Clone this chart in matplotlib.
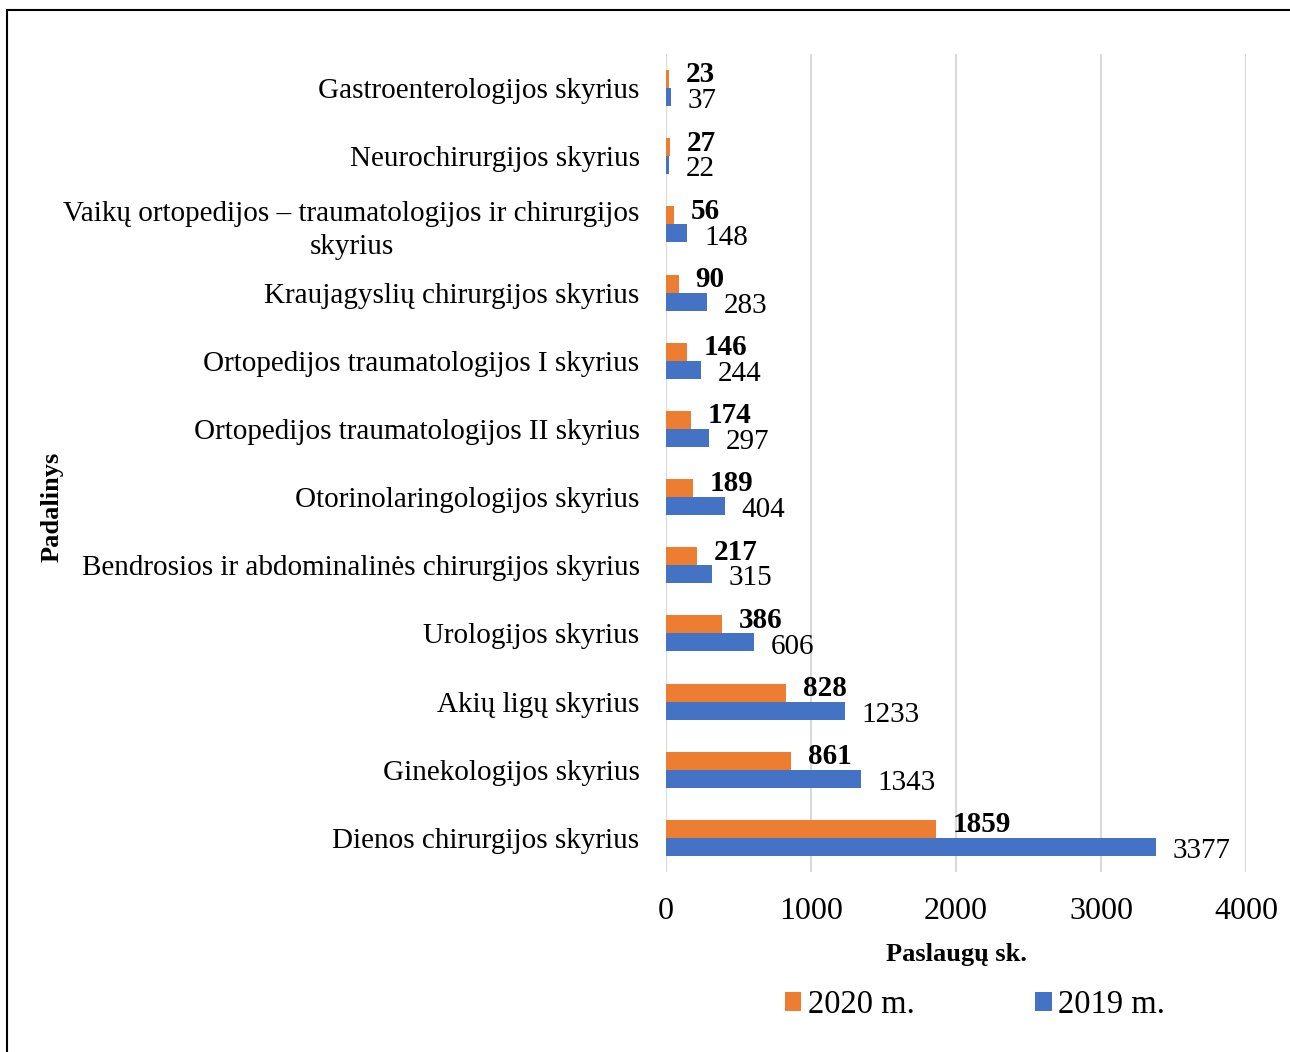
import matplotlib
matplotlib.use("Agg")
import matplotlib.pyplot as plt
from matplotlib.patches import Rectangle
import numpy as np

categories = [
    "Dienos chirurgijos skyrius",
    "Ginekologijos skyrius",
    "Akių ligų skyrius",
    "Urologijos skyrius",
    "Bendrosios ir abdominalinės chirurgijos skyrius",
    "Otorinolaringologijos skyrius",
    "Ortopedijos traumatologijos II skyrius",
    "Ortopedijos traumatologijos I skyrius",
    "Kraujagyslių chirurgijos skyrius",
    "Vaikų ortopedijos – traumatologijos ir chirurgijos\nskyrius",
    "Neurochirurgijos skyrius",
    "Gastroenterologijos skyrius",
]
values_2020 = [1859, 861, 828, 386, 217, 189, 174, 146, 90, 56, 27, 23]
values_2019 = [3377, 1343, 1233, 606, 315, 404, 297, 244, 283, 148, 22, 37]
series_labels = ["2020 m.", "2019 m."]
xticks = [0, 1000, 2000, 3000, 4000]

plt.rcParams['font.family'] = ['Liberation Serif', 'DejaVu Serif']

fig = plt.figure(figsize=(12.9, 10.52), dpi=100)
ax = fig.add_axes([666/1290, 1-872/1052, 580/1290, 818/1052])

y = np.arange(len(categories))
h = 0.265
c20 = "#ED7D31"
c19 = "#4472C4"
b20 = ax.barh(y + h/2, values_2020, height=h, color=c20, label=series_labels[0], zorder=3)
b19 = ax.barh(y - h/2, values_2019, height=h, color=c19, label=series_labels[1], zorder=3)

for yi, v in zip(y, values_2020):
    ax.annotate(str(v), (v, yi + h/2), xytext=(12, 3), textcoords="offset points",
                ha="left", va="center", fontsize=21, fontweight="bold")
for yi, v in zip(y, values_2019):
    ax.annotate(str(v), (v, yi - h/2), xytext=(12, -3), textcoords="offset points",
                ha="left", va="center", fontsize=21)

ax.set_xlim(0, 4000)
ax.set_ylim(-0.5, len(categories) - 0.5)
ax.set_xticks(xticks)
ax.set_xticklabels([str(t) for t in xticks], fontsize=23)
ax.set_yticks(y)
ax.set_yticklabels(categories, fontsize=21, multialignment="center", linespacing=1.34)
ax.tick_params(axis="both", length=0)
ax.tick_params(axis="x", pad=18)
ax.tick_params(axis="y", pad=19)
for s in ax.spines.values():
    s.set_visible(False)
ax.grid(axis="x", color="#d9d9d9", linewidth=1.5, zorder=0)
ax.set_axisbelow(True)

ax.set_xlabel("Paslaugų sk.", fontsize=19, fontweight="bold", labelpad=12)
fig.text(52/1290, 1-507/1052, "Padalinys", rotation=90, fontsize=19, fontweight="bold",
         ha="center", va="center")

leg = fig.legend(handles=[b20, b19], labels=series_labels, loc="center",
                 bbox_to_anchor=(975/1290, 1-1005/1052), ncol=2, frameon=False,
                 fontsize=23.5, handlelength=0.5, handleheight=0.5, handletextpad=0.2,
                 columnspacing=3.7)

fig.patches.append(Rectangle((7/1290, -0.1), 1.2, 1.1 - 10/1052, transform=fig.transFigure,
                             fill=False, edgecolor="black", linewidth=1.5, clip_on=False))

fig.savefig("out.png", dpi=100)
